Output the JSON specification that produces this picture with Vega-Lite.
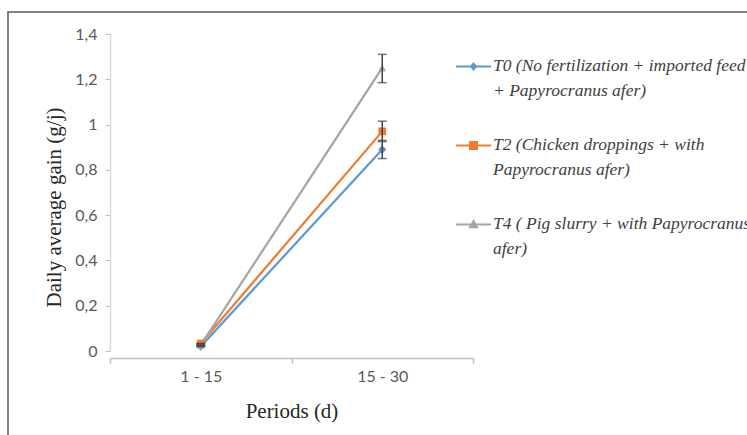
{
  "$schema": "https://vega.github.io/schema/vega-lite/v6.json",
  "width": 745,
  "height": 430,
  "autosize": "none",
  "padding": {"left": 8, "top": 12, "right": -6, "bottom": -7},
  "background": "white",
  "config": {
    "view": {"stroke": "#595959", "strokeWidth": 1.5},
    "axis": {"grid": false}
  },
  "data": {
    "values": [
      {"period": "1 - 15", "treatment": "T0", "gain": 0.02, "lo": 0.02, "hi": 0.02},
      {"period": "15 - 30", "treatment": "T0", "gain": 0.89, "lo": 0.85, "hi": 0.93},
      {"period": "1 - 15", "treatment": "T2", "gain": 0.033, "lo": 0.033, "hi": 0.033},
      {"period": "15 - 30", "treatment": "T2", "gain": 0.97, "lo": 0.925, "hi": 1.015},
      {"period": "1 - 15", "treatment": "T4", "gain": 0.026, "lo": 0.026, "hi": 0.026},
      {"period": "15 - 30", "treatment": "T4", "gain": 1.25, "lo": 1.185, "hi": 1.31}
    ]
  },
  "encoding": {
    "x": {
      "field": "period", "type": "nominal",
      "scale": {"type": "band", "domain": ["1 - 15", "15 - 30"], "range": [102, 465], "paddingInner": 0, "paddingOuter": 0},
      "axis": {
        "title": "Periods (d)", "offset": -84, "labelAngle": 0, "tickBand": "extent",
        "domainColor": "#bfbfbf", "tickColor": "#bfbfbf", "tickSize": 5, "domainWidth": 1.5, "tickWidth": 1.5,
        "labelFont": "Lato", "labelFontSize": 16, "labelColor": "#595959", "labelPadding": 5,
        "titleFont": "Liberation Serif", "titleFontSize": 21, "titleFontWeight": "normal", "titleColor": "#262626", "titlePadding": 16
      }
    },
    "y": {
      "field": "gain", "type": "quantitative",
      "scale": {"domain": [0, 1.4], "range": [339, 22], "nice": false, "zero": true},
      "axis": {
        "title": "Daily average gain (g/j)", "offset": -102, "values": [0, 0.2, 0.4, 0.6, 0.8, 1, 1.2, 1.4],
        "labelExpr": "replace(format(datum.value, '~g'), '.', ',')",
        "domainColor": "#d9d9d9", "tickColor": "#bfbfbf", "tickSize": 5, "domainWidth": 1.5,
        "labelFont": "Lato", "labelFontSize": 16, "labelColor": "#595959", "labelPadding": 8,
        "titleFont": "Liberation Serif", "titleFontSize": 21, "titleFontWeight": "normal", "titleColor": "#262626", "titlePadding": 10,
        "titleAnchor": "middle", "titleY": 195
      }
    }
  },
  "layer": [
    {
      "mark": {"type": "line", "strokeWidth": 2.25},
      "encoding": {
        "color": {
          "field": "treatment", "type": "nominal",
          "scale": {"domain": ["T0", "T2", "T4"], "range": ["#5b9bd5", "#ed7d31", "#a5a5a5"]},
          "legend": {
            "orient": "none", "legendX": 447, "legendY": 36, "title": null, "padding": 0,
            "symbolSize": 1225, "symbolStrokeWidth": 2,
            "labelFont": "Liberation Serif", "labelFontStyle": "italic", "labelFontSize": 17.5, "labelColor": "#404040",
            "labelLimit": 400, "labelOffset": 1, "rowPadding": 28,
            "labelExpr": "datum.value == 'T0' ? ['T0 (No fertilization + imported feed', '+ Papyrocranus afer)'] : datum.value == 'T2' ? ['T2  (Chicken droppings + with', 'Papyrocranus afer)'] : ['T4 ( Pig slurry + with Papyrocranus', 'afer)']",
            "encode": {
              "symbols": {"update": {
                "shape": {"signal": "datum.value == 'T0' ? 'M-1,0L1,0M0,-0.17L0.14,0L0,0.17L-0.14,0Z' : datum.value == 'T2' ? 'M-1,0L1,0M-0.2,-0.2L0.2,-0.2L0.2,0.2L-0.2,0.2Z' : 'M-1,0L1,0M0,-0.2L0.2,0.15L-0.2,0.15Z'"},
                "fill": {"scale": "color", "field": "value"},
                "stroke": {"scale": "color", "field": "value"},
                "strokeWidth": {"value": 2}
              }},
              "labels": {"update": {"baseline": {"value": "top"}, "dy": {"value": -10}, "lineHeight": {"value": 25}}}
            }
          }
        }
      }
    },
    {
      "transform": [{"filter": "datum.treatment == 'T0'"}],
      "mark": {"type": "point", "shape": "diamond", "filled": true, "fill": "#5b9bd5", "opacity": 1, "strokeWidth": 0, "size": 70}
    },
    {
      "transform": [{"filter": "datum.treatment == 'T2'"}],
      "mark": {"type": "point", "shape": "square", "filled": true, "fill": "#ed7d31", "opacity": 1, "strokeWidth": 0, "size": 60}
    },
    {
      "transform": [{"filter": "datum.treatment == 'T4'"}],
      "mark": {"type": "point", "shape": "triangle-up", "filled": true, "fill": "#a5a5a5", "opacity": 1, "strokeWidth": 0, "size": 60}
    },
    {
      "mark": {"type": "errorbar", "color": "#404040", "thickness": 1.5, "ticks": {"size": 9, "thickness": 1.5}},
      "encoding": {
        "y": {"field": "lo", "type": "quantitative", "title": "Daily average gain (g/j)"},
        "y2": {"field": "hi"}
      }
    }
  ]
}
